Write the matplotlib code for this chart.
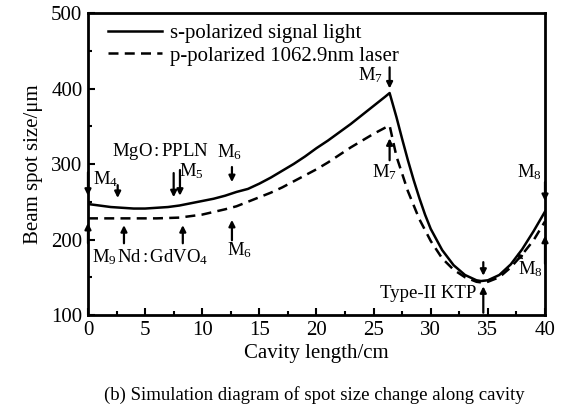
import matplotlib
matplotlib.use("Agg")
import matplotlib.pyplot as plt
from matplotlib.ticker import MultipleLocator

plt.rcParams['font.family'] = ['Liberation Serif', 'DejaVu Sans']
plt.rcParams['mathtext.fontset'] = 'custom'
plt.rcParams['mathtext.rm'] = 'Liberation Serif'
plt.rcParams['mathtext.it'] = 'Liberation Serif:italic'

# s-polarized signal light (solid)
s_x = [0, 1, 2, 3, 4, 5, 6, 7, 8, 9, 10, 11, 12, 13, 14, 15, 16, 17, 18, 19,
       20, 21, 22, 23, 24, 25, 26, 26.4, 27, 27.5, 28, 28.5, 29, 29.5, 30,
       31, 32, 33, 34, 34.4, 35, 36, 37, 38, 39, 40]
s_y = [247, 245, 243, 242, 241, 241, 242, 243, 245, 248, 251, 254, 258, 263,
       267, 274, 282, 291, 300, 310, 321, 331, 342, 353, 365, 377, 389, 394,
       362, 333, 305, 279, 255, 233, 214, 186, 166, 153, 146, 145, 146, 153,
       167, 187, 211, 237]

# p-polarized 1062.9nm laser (dashed)
p_x = [0, 2, 4, 6, 8, 10, 12, 13, 14, 15, 16, 17, 18, 19, 20, 21, 22, 23,
       24, 25, 26, 26.4, 27, 28, 29, 30, 31, 32, 33, 34, 34.5, 35, 36, 37,
       38, 39, 40]
p_y = [228, 228, 228, 228, 229, 233, 240, 244, 250, 256, 262, 269, 277, 285,
       293, 302, 312, 322, 331, 340, 348, 351, 310, 264, 227, 198, 175, 160,
       150, 144, 143, 144, 150, 163, 180, 199, 224]

# arrow annotations: (x, tail y, tip y)
arrows = [
    (0, 289, 258), (2.6, 272, 255), (7.5, 288, 256), (8.05, 292, 258),
    (12.6, 296, 276),
    (0, 195, 222), (3.15, 195, 219), (8.3, 195, 219), (12.6, 199, 226),
    (26.4, 428, 400), (26.4, 305, 334),
    (40, 276, 251), (40, 168, 205),
    (34.6, 170, 152), (34.6, 103, 138),
]

# labels: (x, y, text, ha)
labels = [
    (0.4, 280, r'M$\mathregular{_4}$', 'left'),
    (2.1, 316, r'MgO$\,$:$\,$PPLN', 'left'),
    (11.3, 316, r'M$\mathregular{_6}$', 'left'),
    (8.0, 290, r'M$\mathregular{_5}$', 'left'),
    (0.35, 177, r'M$\mathregular{_9}$', 'left'),
    (2.55, 177, r'Nd$\,$:$\,$GdVO$\mathregular{_4}$', 'left'),
    (12.15, 186, r'M$\mathregular{_6}$', 'left'),
    (23.6, 418, r'M$\mathregular{_7}$', 'left'),
    (24.9, 289, r'M$\mathregular{_7}$', 'left'),
    (37.55, 289, r'M$\mathregular{_8}$', 'left'),
    (37.6, 161, r'M$\mathregular{_8}$', 'left'),
    (33.95, 129, 'Type-II KTP', 'right'),
]

fig = plt.figure(figsize=(5.72, 4.18), dpi=100)
ax = fig.add_axes([0.1538, 0.2464, 0.799, 0.7225])

ax.plot(s_x, s_y, color='black', lw=1.8, label='s-polarized signal light')
ax.plot(p_x, p_y, color='black', lw=1.8, ls=(0, (4, 2.5)),
        label='p-polarized 1062.9nm laser')

for x, y0, y1 in arrows:
    ax.annotate('', xy=(x, y1), xytext=(x, y0), annotation_clip=False,
                arrowprops=dict(arrowstyle='-|>', color='black', lw=1.6,
                                mutation_scale=9, shrinkA=0, shrinkB=0))
# small slanted arrow near the lower M8
ax.annotate('', xy=(37.55, 182), xytext=(38.0, 175),
            arrowprops=dict(arrowstyle='-|>', color='black', lw=1.2,
                            mutation_scale=7, shrinkA=0, shrinkB=0))

for x, y, t, ha in labels:
    ax.text(x, y, t, ha=ha, va='center', fontsize=13.5)

ax.set_xlim(0, 40)
ax.set_ylim(100, 500)
ax.xaxis.set_major_locator(MultipleLocator(5))
ax.xaxis.set_minor_locator(MultipleLocator(2.5))
ax.yaxis.set_major_locator(MultipleLocator(100))
ax.yaxis.set_minor_locator(MultipleLocator(50))
ax.tick_params(which='both', direction='in', top=False, right=False,
               labelsize=15, width=1.5)
ax.tick_params(which='major', length=5, pad=4)
ax.tick_params(which='minor', length=3)
for sp in ax.spines.values():
    sp.set_linewidth(2)

ax.set_xlabel('Cavity length/cm', fontsize=15, labelpad=3)
ax.set_ylabel('Beam spot size/μm', fontsize=15, labelpad=6)

ax.legend(loc='upper left', frameon=False, fontsize=15, handlelength=2.6,
          handletextpad=0.4, borderaxespad=0.1, labelspacing=0.15,
          bbox_to_anchor=(0.02, 1.0))

fig.text(0.549, 0.055, '(b) Simulation diagram of spot size change along cavity',
         ha='center', va='center', fontsize=13.5)

fig.savefig('out.png', dpi=100)
